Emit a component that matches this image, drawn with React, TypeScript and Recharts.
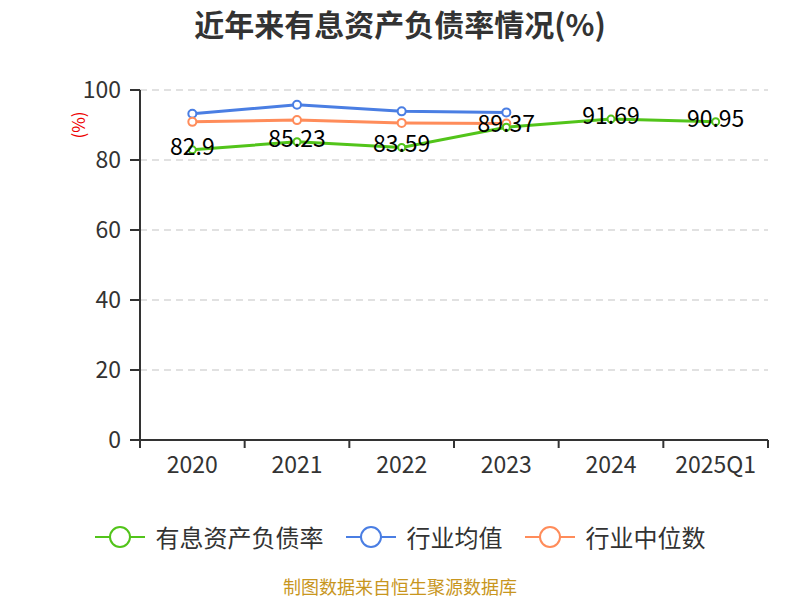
import React from "react";
import {
  ComposedChart,
  Line,
  XAxis,
  YAxis,
  CartesianGrid,
  LabelList,
} from "recharts";

const years = ["2020", "2021", "2022", "2023", "2024", "2025Q1"];
const debtRatio = [82.9, 85.23, 83.59, 89.37, 91.69, 90.95];
const industryMean = [93.2, 95.8, 93.9, 93.6, null, null];
const industryMedian = [90.9, 91.4, 90.6, 90.4, null, null];
const yTicks = [0, 20, 40, 60, 80, 100];

const GREEN = "#52c41a";
const BLUE = "#4a7ee3";
const ORANGE = "#ff8c5a";
const FONT = "'Noto Sans CJK SC', 'Noto Sans', sans-serif";

const data = years.map((year, i) => ({
  year,
  debt: debtRatio[i],
  mean: industryMean[i],
  median: industryMedian[i],
}));

const legendItems = [
  { name: "有息资产负债率", color: GREEN },
  { name: "行业均值", color: BLUE },
  { name: "行业中位数", color: ORANGE },
];

// plot spans 140..768, so each category is this wide
const BAND = 628 / years.length;

function XTick(props: any) {
  const { x, y, payload, index } = props;
  const last = index === years.length - 1;
  return (
    <g>
      <line x1={x - BAND / 2} x2={x - BAND / 2} y1={y - 8} y2={y} stroke="#333" strokeWidth={2} />
      {last && (
        <line x1={x + BAND / 2} x2={x + BAND / 2} y1={y - 8} y2={y} stroke="#333" strokeWidth={2} />
      )}
      <text x={x} y={y + 25} textAnchor="middle" fill="#333" fontSize={23} fontFamily={FONT}>
        {payload.value}
      </text>
    </g>
  );
}

function ValueLabel(props: any) {
  const { x, y, value } = props;
  return (
    <text x={x} y={y} dy={5} textAnchor="middle" fill="#000" fontSize={23} fontFamily={FONT}>
      {value}
    </text>
  );
}

export default function App() {
  return (
    <div style={{ position: "absolute", left: 0, top: 0, width: 800, height: 600, background: "#fff", fontFamily: FONT }}>
      <div style={{ position: "absolute", top: 2, width: 800, textAlign: "center", fontSize: 30, fontWeight: "bold", color: "#333", lineHeight: "42px" }}>
        近年来有息资产负债率情况(%)
      </div>
      <div
        style={{
          position: "absolute",
          left: 77,
          top: 125,
          transform: "translate(-50%, -50%) rotate(-90deg)",
          color: "#e00",
          fontSize: 17,
          whiteSpace: "nowrap",
        }}
      >
        (%)
      </div>

      <ComposedChart width={800} height={600} data={data} margin={{ top: 90, right: 32, bottom: 130, left: 0 }}>
        <CartesianGrid vertical={false} stroke="#c4c4c4" strokeDasharray="7 5" strokeWidth={1.2} />
        <XAxis
          dataKey="year"
          scale="band"
          tick={<XTick />}
          tickLine={false}
          axisLine={{ stroke: "#333", strokeWidth: 2 }}
          height={30}
          interval={0}
        />
        <YAxis
          width={140}
          domain={[0, 100]}
          ticks={yTicks}
          tick={{ fill: "#333", fontSize: 23, fontFamily: FONT }}
          tickLine={{ stroke: "#333", strokeWidth: 2 }}
          tickSize={10}
          tickMargin={9}
          axisLine={{ stroke: "#333", strokeWidth: 2 }}
        />
        <Line
          dataKey="mean"
          stroke={BLUE}
          strokeWidth={3}
          dot={{ r: 4, fill: "#fff", stroke: BLUE, strokeWidth: 2 }}
          isAnimationActive={false}
        />
        <Line
          dataKey="median"
          stroke={ORANGE}
          strokeWidth={3}
          dot={{ r: 4, fill: "#fff", stroke: ORANGE, strokeWidth: 2 }}
          isAnimationActive={false}
        />
        <Line
          dataKey="debt"
          stroke={GREEN}
          strokeWidth={3}
          dot={{ r: 3.5, fill: "#fff", stroke: GREEN, strokeWidth: 2 }}
          isAnimationActive={false}
        >
          <LabelList dataKey="debt" content={<ValueLabel />} />
        </Line>
      </ComposedChart>

      <div style={{ position: "absolute", top: 519, left: 0, width: 800, display: "flex", justifyContent: "center", gap: 22 }}>
        {legendItems.map((item) => (
          <div key={item.name} style={{ display: "flex", alignItems: "center", height: 36 }}>
            <svg width={50} height={30}>
              <line x1={0} x2={50} y1={15} y2={15} stroke={item.color} strokeWidth={2} />
              <circle cx={25} cy={15} r={10} fill="#fff" stroke={item.color} strokeWidth={2} />
            </svg>
            <span style={{ marginLeft: 11, fontSize: 24, color: "#333", lineHeight: "36px" }}>{item.name}</span>
          </div>
        ))}
      </div>

      <div style={{ position: "absolute", top: 575, width: 800, textAlign: "center", fontSize: 18, color: "#c8961e", lineHeight: "22px" }}>
        制图数据来自恒生聚源数据库
      </div>
    </div>
  );
}
